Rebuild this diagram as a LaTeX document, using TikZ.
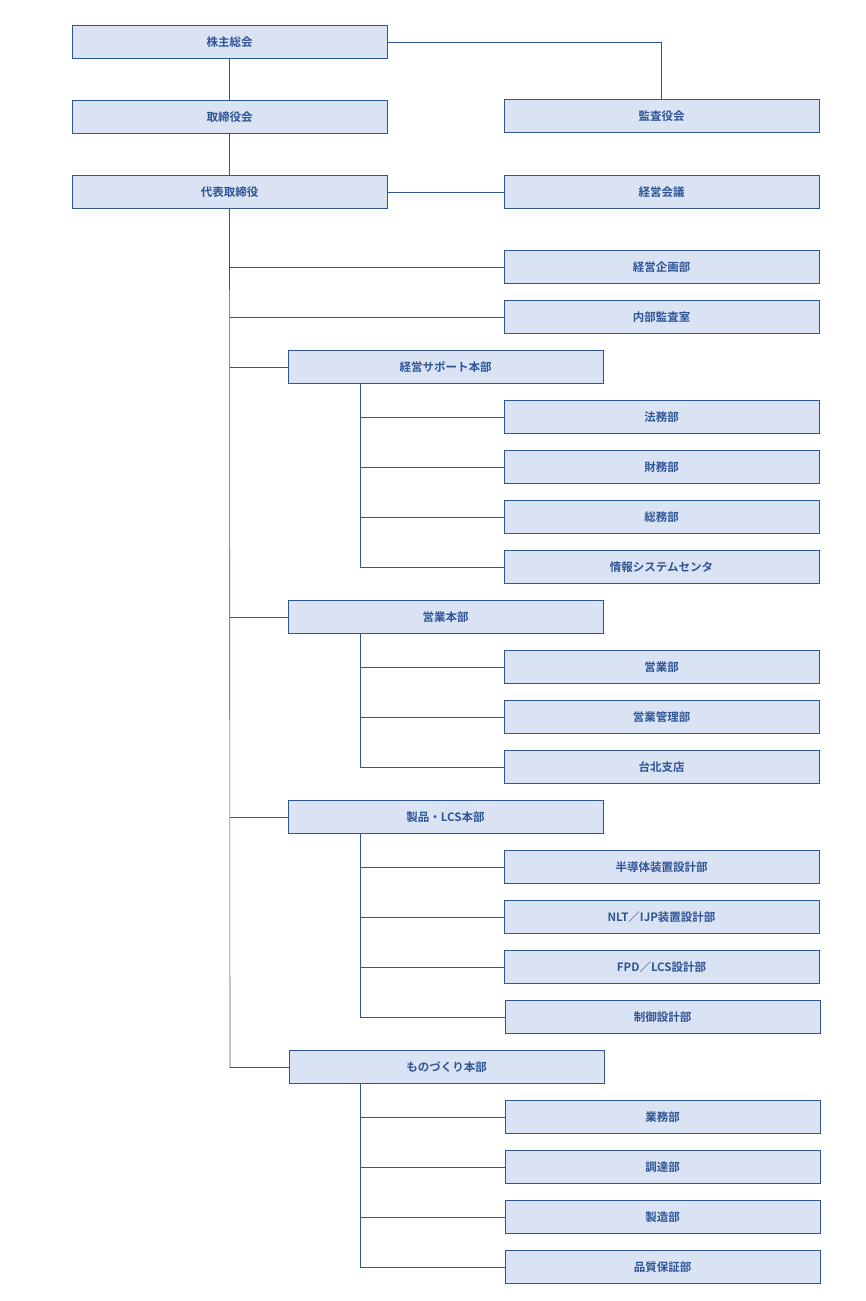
\documentclass[tikz,border=0pt]{standalone}
\usepackage{fontspec}
\setmainfont{Noto Sans CJK JP}[BoldFont={* Bold}]
\usetikzlibrary{positioning}
\definecolor{boxfill}{HTML}{DAE3F3}
\definecolor{boxline}{HTML}{2F5597}
\tikzset{
  unit/.style={draw=boxline,fill=boxfill,minimum width=315pt,minimum height=33pt,
    inner sep=0pt,font=\bfseries\fontsize{11.5}{13}\selectfont,text=boxline},
  link/.style={draw=boxline,line width=0.6pt}
}
\begin{document}
\begin{tikzpicture}[x=1pt,y=-1pt]
  \useasboundingbox (0,0) rectangle (865,1301);

  % Top level
  \node[unit] (meeting) at (229.5,42) {株主総会};
  \node[unit] (board) at (229.5,117) {取締役会};
  \node[unit] (ceo) at (229.5,192) {代表取締役};
  \node[unit] (audit) at (661.5,116) {監査役会};
  \node[unit] (council) at (661.5,192) {経営会議};

  \draw[link] (meeting) -- (board);
  \draw[link] (board) -- (ceo);
  \draw[link] (meeting.east) -| (audit.north);
  \draw[link] (ceo) -- (council);

  % Staff units
  \node[unit] (plan) at (661.5,267) {経営企画部};
  \node[unit] (inaudit) at (661.5,317) {内部監査室};

  % Divisions
  \node[unit] (supp) at (445.5,367) {経営サポート本部};
  \node[unit] (sales) at (445.5,617) {営業本部};
  \node[unit] (prod) at (445.5,817) {製品・LCS本部};
  \node[unit] (mfg) at (446.5,1067) {ものづくり本部};

  \coordinate (trunk) at (230,1068);
  \draw[link] (ceo.south) -- (trunk);
  \foreach \n in {plan,inaudit,supp,sales,prod,mfg}
    \draw[link] (\n.west) -- (230,0 |- \n.west);

  % Departments
  \foreach \name/\y/\txt in {
      legal/417/法務部, fin/467/財務部, gen/517/総務部, ict/567/情報システムセンタ,
      sdept/667/営業部, smgmt/717/営業管理部, taipei/767/台北支店,
      semi/867/半導体装置設計部, nlt/917/NLT／IJP装置設計部,
      fpd/967/FPD／LCS設計部}
    \node[unit] (\name) at (661.5,\y) {\txt};
  \foreach \name/\y/\txt in {
      ctrl/1017/制御設計部, ops/1117/業務部, proc/1167/調達部,
      make/1217/製造部, qa/1267/品質保証部}
    \node[unit] (\name) at (662.5,\y) {\txt};

  \draw[link] (supp.south -| 360,0) -- (360,567);
  \draw[link] (sales.south -| 360,0) -- (360,767);
  \draw[link] (prod.south -| 360,0) -- (360,1017);
  \draw[link] (mfg.south -| 360,0) -- (360,1267);
  \foreach \n in {legal,fin,gen,ict,sdept,smgmt,taipei,semi,nlt,fpd,ctrl,ops,proc,make,qa}
    \draw[link] (\n.west) -- (360,0 |- \n.west);
\end{tikzpicture}
\end{document}
